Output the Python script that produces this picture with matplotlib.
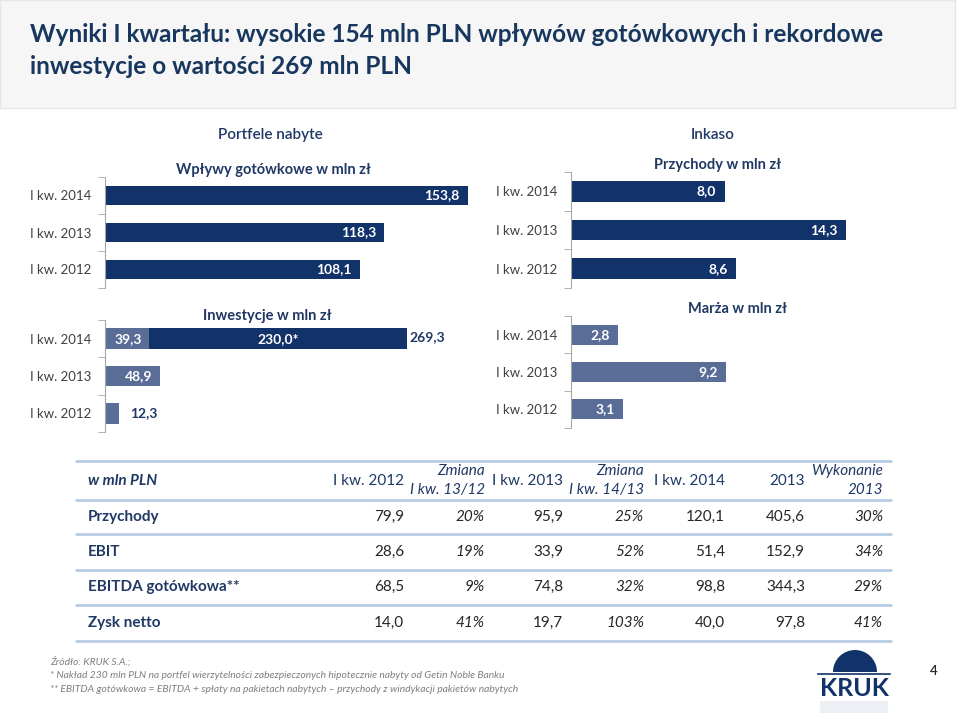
import matplotlib
matplotlib.use("Agg")
import matplotlib.pyplot as plt
from matplotlib.patches import Rectangle, Wedge
from matplotlib.ticker import FixedLocator

plt.rcParams['font.family'] = ['Lato', 'DejaVu Sans']

W, H = 960, 719
NAVY = '#11336A'
SLATE = '#5A6D97'
TXT = '#1F3864'
GRAY = '#404040'

# ---- data
quarters = ['I kw. 2014', 'I kw. 2013', 'I kw. 2012']
wplywy = [153.8, 118.3, 108.1]
inkaso_przychody = [8.0, 14.3, 8.6]
inwest_wlasne = [39.3, 48.9, 12.3]
inwest_getin = [230.0, 0.0, 0.0]
marza = [2.8, 9.2, 3.1]

rows = ['Przychody', 'EBIT', 'EBITDA gotówkowa**', 'Zysk netto']
q1_2012 = [79.9, 28.6, 68.5, 14.0]
chg_13_12 = [20, 19, 9, 41]
q1_2013 = [95.9, 33.9, 74.8, 19.7]
chg_14_13 = [25, 52, 32, 103]
q1_2014 = [120.1, 51.4, 98.8, 40.0]
fy_2013 = [405.6, 152.9, 344.3, 97.8]
wyk_2013 = [30, 34, 29, 41]


def pl(v):
    return f'{v:.1f}'.replace('.', ',')


def box(x0, y0, x1, y1):
    return [x0 / W, 1 - y1 / H, (x1 - x0) / W, (y1 - y0) / H]


fig = plt.figure(figsize=(9.6, 7.19), dpi=100)
bg = fig.add_axes([0, 0, 1, 1])
bg.set_xlim(0, W)
bg.set_ylim(H, 0)
bg.axis('off')

# header band
bg.add_patch(Rectangle((0, 0), 955, 108, facecolor='#F6F6F6', edgecolor='#E6E6E6', lw=1))
bg.text(30, 34, 'Wyniki I kwartału: wysokie 154 mln PLN wpływów gotówkowych i rekordowe',
        fontsize=17.6, fontweight='bold', color='#17375E', va='center')
bg.text(30, 67, 'inwestycje o wartości 269 mln PLN',
        fontsize=17.6, fontweight='bold', color='#17375E', va='center')

# section titles
sec = dict(fontsize=11, fontweight='semibold', color=TXT, ha='center', va='center')
bg.text(270, 135, 'Portfele nabyte', **sec)
bg.text(713, 135, 'Inkaso', **sec)
sub = dict(fontsize=10.5, fontweight='bold', color=TXT, ha='center', va='center')
bg.text(273, 170, 'Wpływy gotówkowe w mln zł', **sub)
bg.text(718, 165, 'Przychody w mln zł', **sub)
bg.text(267, 316, 'Inwestycje w mln zł', **sub)
bg.text(738, 309, 'Marża w mln zł', **sub)


def panel(rect, xmax):
    ax = fig.add_axes(rect)
    ax.set_xlim(0, xmax)
    ax.set_ylim(-0.5, 2.5)
    ax.patch.set_alpha(0)
    for s in ['top', 'right', 'bottom']:
        ax.spines[s].set_visible(False)
    ax.spines['left'].set_color('#A6A6A6')
    ax.set_xticks([])
    ax.set_yticks([2, 1, 0])
    ax.set_yticklabels(quarters, fontsize=9.5, color=GRAY)
    ax.tick_params(axis='y', which='major', length=0, pad=10)
    ax.yaxis.set_minor_locator(FixedLocator([-0.5, 0.5, 1.5, 2.5]))
    ax.tick_params(axis='y', which='minor', length=5, color='#A6A6A6')
    return ax


ypos = [2, 1, 0]
lbl = dict(color='white', fontsize=10, fontweight='bold', va='center')

# Wplywy gotowkowe
ax1 = panel(box(105, 177, 485, 288), 161)
ax1.barh(ypos, wplywy, height=0.54, color=NAVY)
for y, v in zip(ypos, wplywy):
    ax1.annotate(pl(v), (v, y), xytext=(-6, 0), textcoords='offset points', ha='right', **lbl)

# Inkaso przychody
ax2 = panel(box(571, 172, 931, 288), 18.75)
ax2.barh(ypos, inkaso_przychody, height=0.53, color=NAVY)
for y, v in zip(ypos, inkaso_przychody):
    ax2.annotate(pl(v), (v, y), xytext=(-6, 0), textcoords='offset points', ha='right', **lbl)

# Inwestycje
ax3 = panel(box(105, 320, 485, 432), 339)
ax3.barh(ypos, inwest_wlasne, height=0.56, color=SLATE)
ax3.barh(ypos, inwest_getin, left=inwest_wlasne, height=0.56, color=NAVY)
for y, a, b in zip(ypos, inwest_wlasne, inwest_getin):
    if a > 30:
        ax3.annotate(pl(a), (a, y), xytext=(-5, 0), textcoords='offset points', ha='right', **lbl)
    else:
        ax3.annotate(pl(a), (a, y), xytext=(8, 0), textcoords='offset points', ha='left',
                     color=TXT, fontsize=10, fontweight='bold', va='center')
    if b > 0:
        ax3.text(a + b / 2, y, pl(b) + '*', ha='center', **lbl)
        ax3.annotate(pl(a + b), (a + b, y + 0.05), xytext=(2, 0), textcoords='offset points', ha='left',
                     color=TXT, fontsize=10, fontweight='bold', va='center')

# Marza
ax4 = panel(box(571, 316, 931, 428), 21.4)
ax4.barh(ypos, marza, height=0.54, color=SLATE)
for y, v in zip(ypos, marza):
    ax4.annotate(pl(v), (v, y), xytext=(-6, 0), textcoords='offset points', ha='right', **lbl)

# ---- table
LINE = '#B8CCE4'
cols_x = [404, 485, 563, 644, 725, 805, 883]
for yl in [461, 500, 534, 570, 605, 641]:
    bg.plot([75, 892], [yl, yl], color=LINE, lw=2, solid_capstyle='butt')

hdr = dict(fontsize=11, color=TXT, va='center', ha='right')
bg.text(88, 481, 'w mln PLN', fontsize=11, color=TXT, va='center', fontweight='bold', fontstyle='italic')
bg.text(cols_x[0], 481, 'I kw. 2012', **hdr)
bg.text(cols_x[1], 471, 'Zmiana', fontstyle='italic', **hdr)
bg.text(cols_x[1], 490, 'I kw. 13/12', fontstyle='italic', **hdr)
bg.text(cols_x[2], 481, 'I kw. 2013', **hdr)
bg.text(cols_x[3], 471, 'Zmiana', fontstyle='italic', **hdr)
bg.text(cols_x[3], 490, 'I kw. 14/13', fontstyle='italic', **hdr)
bg.text(cols_x[4], 481, 'I kw. 2014', **hdr)
bg.text(cols_x[5], 481, '2013', **hdr)
bg.text(cols_x[6], 471, 'Wykonanie', fontstyle='italic', **hdr)
bg.text(cols_x[6], 490, '2013', fontstyle='italic', **hdr)

row_y = [517, 552, 587, 623]
cell = dict(fontsize=11, color='#262626', va='center', ha='right')
for i, name in enumerate(rows):
    y = row_y[i]
    bg.text(88, y, name, fontsize=11, color=TXT, fontweight='bold', va='center')
    bg.text(cols_x[0], y, pl(q1_2012[i]), **cell)
    bg.text(cols_x[1], y, f'{chg_13_12[i]}%', fontstyle='italic', **cell)
    bg.text(cols_x[2], y, pl(q1_2013[i]), **cell)
    bg.text(cols_x[3], y, f'{chg_14_13[i]}%', fontstyle='italic', **cell)
    bg.text(cols_x[4], y, pl(q1_2014[i]), **cell)
    bg.text(cols_x[5], y, pl(fy_2013[i]), **cell)
    bg.text(cols_x[6], y, f'{wyk_2013[i]}%', fontstyle='italic', **cell)

# footnotes
notes = ['Źródło: KRUK S.A.;',
         '* Nakład 230 mln PLN na portfel wierzytelności zabezpieczonych hipotecznie nabyty od Getin Noble Banku',
         '** EBITDA gotówkowa = EBITDA + spłaty na pakietach nabytych – przychody z windykacji pakietów nabytych']
for k, t in enumerate(notes):
    bg.text(50, 662 + 13.5 * k, t, fontsize=7.4, fontstyle='italic', color='#7F7F7F', va='center')

# page number and logo
bg.text(934, 671, '4', fontsize=9.5, color='#262626', ha='center', va='center', fontweight='semibold')
bg.add_patch(Wedge((855, 672), 22, 180, 360, facecolor=NAVY, edgecolor='none'))
bg.plot([818, 890], [673.5, 673.5], color=NAVY, lw=1.2)
bg.text(854, 688, 'KRUK', fontsize=18, fontweight='bold', color=NAVY, ha='center', va='center')
bg.add_patch(Rectangle((820, 701), 68, 12, facecolor=NAVY, alpha=0.08, edgecolor='none'))

fig.savefig('out.png', dpi=100)
